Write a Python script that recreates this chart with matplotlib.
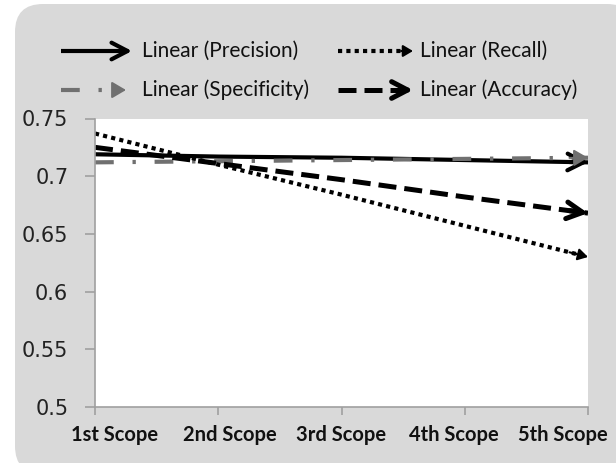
import numpy as np
import matplotlib.pyplot as plt
from matplotlib.patches import FancyBboxPatch
from matplotlib.lines import Line2D

scopes = ['1st Scope', '2nd Scope', '3rd Scope', '4th Scope', '5th Scope']
precision = [0.719, 0.717, 0.716, 0.714, 0.712]
recall = [0.737, 0.710, 0.684, 0.657, 0.630]
specificity = [0.712, 0.713, 0.714, 0.715, 0.716]
accuracy = [0.725, 0.711, 0.697, 0.682, 0.668]
yticks = [0.5, 0.55, 0.6, 0.65, 0.7, 0.75]
ytick_labels = ['0.5', '0.55', '0.6', '0.65', '0.7', '0.75']

label_font = ['Lato', 'DejaVu Sans']

fig = plt.figure(figsize=(6.16, 4.63), dpi=100)

# background panel, drawn in pixel coordinates
bg = fig.add_axes([0, 0, 1, 1], zorder=0)
bg.set_xlim(0, 616)
bg.set_ylim(463, 0)
bg.axis('off')
bg.add_patch(FancyBboxPatch((15, 4), 620, 470, boxstyle='round,pad=0,rounding_size=28',
                            facecolor='#d9d9d9', edgecolor='none'))

ax = fig.add_axes([95 / 616, 1 - 407 / 463, 493 / 616, (407 - 118.5) / 463], zorder=1)
ax.set_facecolor('white')
x = np.arange(len(scopes))

spec_ls = (0, (4.5, 4.5, 0.8, 4.5))
acc_ls = (0, (3.6, 1.6))
rec_ls = (0, (1, 1))

series = [
    (precision, 'black', '-', 3.0, '->'),
    (specificity, '#707070', spec_ls, 3.0, '-|>'),
    (accuracy, 'black', acc_ls, 3.6, '->'),
    (recall, 'black', rec_ls, 3.0, '-|>'),
]


def head_props(head, col, lw, size=0.35):
    if head == '->':
        style = '->,head_length=1.15,head_width=0.6'
        return dict(arrowstyle=style, color=col, lw=lw, shrinkA=0, shrinkB=0)
    style = '-|>,head_length=%.2f,head_width=%.2f' % (size * 1.7, size)
    return dict(arrowstyle=style, color=col, lw=1.5, shrinkA=0, shrinkB=0)


for vals, col, ls, lw, head in series:
    ax.plot(x, vals, color=col, linestyle=ls, linewidth=lw, solid_capstyle='butt')
    # arrow head at the last point, pointing along the last segment
    back = x[-1] - 0.15
    yb = vals[-1] + (vals[-2] - vals[-1]) * 0.15
    size = 0.5 if col != 'black' else 0.35
    ax.annotate('', xy=(x[-1], vals[-1]), xytext=(back, yb),
                arrowprops=head_props(head, col, lw, size), annotation_clip=False)

ax.set_xlim(0, 4)
ax.set_ylim(0.5, 0.75)
ax.set_xticks(x)
ax.set_xticklabels([])
# category labels are squeezed towards the middle, as the chart tool lays them out
shifts = [20, 12, 0, -11, -25]
for i, (name, dx) in enumerate(zip(scopes, shifts)):
    ax.annotate(name, xy=(x[i], 0), xycoords=('data', 'axes fraction'),
                xytext=(dx, -18), textcoords='offset pixels', ha='center', va='top',
                fontsize=14.5, fontweight='bold', family=label_font, color='#111111',
                annotation_clip=False)
ax.set_yticks(yticks)
ax.set_yticklabels(ytick_labels, fontsize=15, color='#222222')
for s in ['top', 'right']:
    ax.spines[s].set_visible(False)
for s in ['left', 'bottom']:
    ax.spines[s].set_color('#a0a0a0')
    ax.spines[s].set_linewidth(1.2)
ax.tick_params(axis='y', length=7.2, width=1.2, color='#a0a0a0', pad=12)
ax.tick_params(axis='x', length=6, width=1.2, color='#a0a0a0', direction='out')

# legend drawn by hand in pixel coordinates
legend_rows = [
    ('Linear (Precision)', 61, 132, 142, 51, 'black', '-', 3.0, '->'),
    ('Linear (Recall)', 338, 413, 420, 51, 'black', rec_ls, 3.0, '-|>'),
    ('Linear (Specificity)', 61, 126, 142, 90, '#707070', spec_ls, 3.0, '-|>'),
    ('Linear (Accuracy)', 338, 413, 420, 90, 'black', acc_ls, 3.6, '->'),
]
for text, x0, x1, tx, ty, col, ls, lw, head in legend_rows:
    stop = x1 - 16 if head == '-|>' and col != 'black' else x1 - 10
    bg.add_line(Line2D([x0, stop], [ty, ty], color=col, linestyle=ls, linewidth=lw,
                       solid_capstyle='butt'))
    size = 0.5 if col != 'black' else 0.35
    bg.annotate('', xy=(x1, ty), xytext=(x1 - 12, ty), arrowprops=head_props(head, col, lw, size))
    bg.text(tx, ty, text, fontsize=15, family=label_font, va='center', ha='left',
            color='#111111')

fig.savefig('out.png', dpi=100)
